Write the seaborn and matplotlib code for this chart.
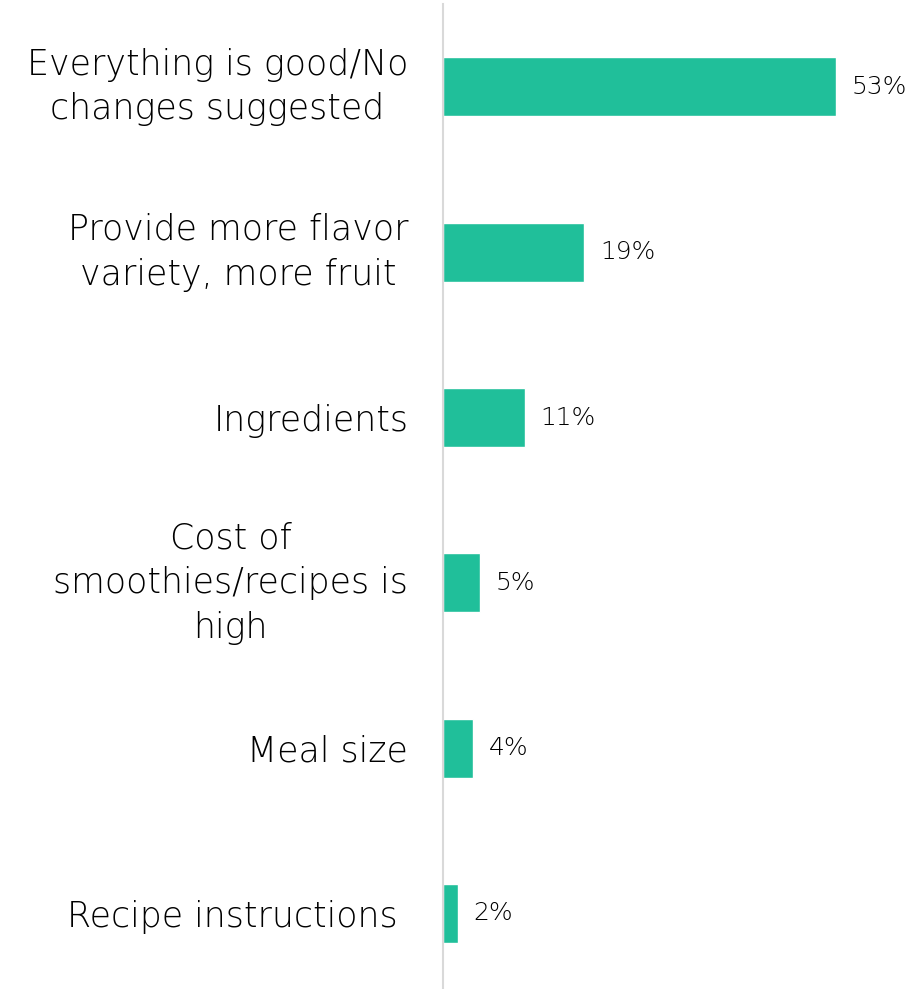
import matplotlib
matplotlib.use("Agg")
import matplotlib.pyplot as plt
import seaborn as sns
import pandas as pd

categories = [
    "Everything is good/No\nchanges suggested",
    "Provide more flavor\nvariety, more fruit",
    "Ingredients",
    "Cost of\nsmoothies/recipes is\nhigh",
    "Meal size",
    "Recipe instructions ",
]
values = [53, 19, 11, 5, 4, 2]
value_labels = ["53%", "19%", "11%", "5%", "4%", "2%"]

df = pd.DataFrame({"category": categories, "value": values})

sns.set_theme(style="white")
plt.rcParams["font.family"] = ["DejaVu Sans"]

W, H = 922, 989
fig = plt.figure(figsize=(W / 100, H / 100), dpi=100)
left, right, top, bottom = 443, 836, 4, 989
ax = fig.add_axes([left / W, 1 - bottom / H, (right - left) / W, (bottom - top) / H])

sns.barplot(data=df, y="category", x="value", orient="h", color="#20BF9A",
            width=0.357, saturation=1, ax=ax)

ax.set_xlim(0, 53)
ax.set_ylim(5.457, -0.502)
ax.set_xlabel("")
ax.set_ylabel("")
ax.set_xticks([])

for s in ["top", "right", "bottom"]:
    ax.spines[s].set_visible(False)
ax.spines["left"].set_color("#D9D9D9")
ax.spines["left"].set_linewidth(1.5)

ax.tick_params(axis="y", length=0, pad=25)
for lbl in ax.get_yticklabels():
    lbl.set_fontsize(25)
    lbl.set_fontweight("light")
    lbl.set_color("#000000")
    lbl.set_multialignment("center")
    lbl.set_linespacing(1.4)
    if "\n" in lbl.get_text():
        lbl.set_verticalalignment("center")

for i, (v, t) in enumerate(zip(values, value_labels)):
    ax.annotate(t, xy=(v, i), xytext=(11.5, 0), textcoords="offset points",
                ha="left", va="center", fontsize=18, fontweight="light",
                color="#000000", annotation_clip=False)

fig.savefig("out.png", dpi=100)
